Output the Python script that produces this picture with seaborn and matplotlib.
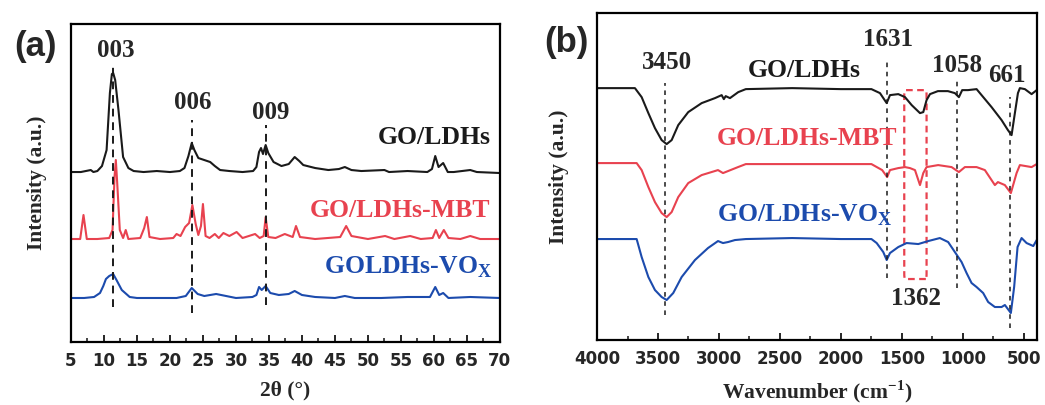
import matplotlib
matplotlib.use("Agg")
import matplotlib.pyplot as plt
import seaborn as sns
from matplotlib.patches import FancyBboxPatch
from matplotlib.ticker import MultipleLocator, NullLocator

# ─── (a) XRD patterns, intensity in arbitrary offset units ───────────────────
xrd_black_x = [5.0, 6.5, 8.0, 8.4, 9.0, 9.7, 10.4, 10.9, 11.2, 11.4, 11.7, 12.2, 12.9, 13.7, 14.5, 16, 18, 20, 21.5,
               22.2, 22.8, 23.3, 23.7, 24.3, 25.2, 26.1, 26.8, 27.6, 29, 31, 32.6, 33.1, 33.5, 33.8, 34.1, 34.5,
               34.9, 35.7, 36.9, 38.0, 38.9, 39.6, 40.2, 42, 44, 45.6, 46.5, 47.5, 49, 52.5, 53.2, 56, 59.0,
               59.7, 60.2, 60.7, 61.4, 62.1, 63, 65.5, 66.5, 70]
xrd_black_y = [170, 170, 172, 170, 171, 176, 192, 249, 268, 269, 262, 232, 185, 174, 171, 170, 171, 170, 171,
               174, 186, 199, 192, 184, 182, 180, 176, 172, 171, 170, 171, 175, 190, 194, 188, 197,
               189, 180, 176, 178, 185, 181, 177, 174, 172, 173, 175, 172, 171, 172, 170, 171, 170,
               173, 186, 175, 179, 170, 170, 172, 170, 169]

xrd_red_x = [5.0, 6.4, 6.9, 7.4, 9, 10.8, 11.3, 11.6, 11.8, 12.0, 12.4, 12.9, 13.3, 13.7, 15.5, 16.1, 16.5, 16.9,
             18.5, 20.5, 21.0, 21.6, 22.3, 22.9, 23.4, 23.9, 24.3, 24.7, 25.0, 25.4, 26.0, 26.8, 27.4, 28.1, 29,
             30.1, 31, 32.9, 33.6, 34.2, 34.5, 34.9, 36, 37.4, 38.6, 39.1, 39.7, 42, 45.8, 46.7, 47.5, 50,
             52.6, 54, 56.4, 58, 59.8, 60.3, 60.8, 61.5, 62.2, 64, 65.5, 67, 70]
xrd_red_y = [103, 103, 127, 103, 103, 104, 112, 165, 182, 160, 112, 104, 112, 103, 104, 114, 125, 105,
             103, 104, 108, 106, 115, 119, 137, 118, 107, 116, 138, 106, 104, 108, 104, 109, 106,
             110, 104, 108, 104, 106, 125, 105, 104, 108, 105, 116, 105, 103, 105, 116, 106, 103,
             106, 103, 106, 103, 104, 112, 104, 112, 104, 103, 106, 103, 103]

xrd_blue_x = [5.0, 7, 8.5, 9.4, 9.9, 10.3, 10.8, 11.4, 11.9, 12.7, 13.9, 15, 18, 21, 22.4, 23.3, 24.2, 25.2, 27,
              28.5, 30, 32.5, 33.1, 33.5, 33.9, 34.5, 35.2, 36.5, 38.0, 38.9, 40, 42, 45, 46.5, 48, 52, 56,
              59.4, 60.2, 60.8, 61.4, 62.2, 65.5, 70]
xrd_blue_y = [44, 44, 45, 49, 56, 63, 66, 68, 62, 52, 45, 44, 44, 44, 46, 54, 48, 46, 48,
              46, 44, 45, 47, 55, 52, 56, 49, 47, 48, 51, 47, 45, 44, 46, 44, 44, 45,
              45, 55, 47, 49, 44, 45, 44]

xrd_markers = [11.4, 23.3, 34.5]
xrd_marker_top = [277, 222, 217]
xrd_marker_bottom = [35, 29, 37]
xrd_labels = ["003", "006", "009"]
xrd_label_x = [11.8, 23.5, 35.2]
xrd_label_y = [292, 240, 230]
xrd_ticks = [5, 10, 15, 20, 25, 30, 35, 40, 45, 50, 55, 60, 65, 70]

# ─── (b) FTIR spectra ────────────────────────────────────────────────────────
ir_black_x = [4000, 3689, 3634, 3579, 3525, 3470, 3429, 3388, 3334, 3252, 3142, 3033, 2978, 2960, 2945, 2910, 2842,
              2780, 2400, 2000, 1750, 1680, 1625, 1598, 1530, 1475, 1420, 1352, 1325, 1298, 1270, 1205, 1123,
              1066, 1033, 1006, 959, 888, 847, 765, 683, 631, 601, 574, 549, 533, 492, 437, 395]
ir_black_y = [252, 252, 243, 227, 212, 200, 196, 200, 215, 228, 237, 242, 245, 241, 244, 242, 248,
              251, 252, 251, 251, 247, 237, 245, 246, 243, 235, 227, 228, 240, 246, 249, 249,
              247, 243, 250, 250, 251, 245, 233, 220, 210, 205, 227, 247, 252, 251, 246, 250]

ir_red_x = [4000, 3675, 3634, 3579, 3525, 3470, 3429, 3388, 3334, 3252, 3142, 3008, 2967, 2926, 2844, 2780,
            2400, 2000, 1750, 1662, 1621, 1598, 1530, 1475, 1434, 1393, 1352, 1325, 1298, 1203, 1093, 1033,
            984, 888, 820, 738, 713, 656, 607, 560, 533, 437, 395]
ir_red_y = [177, 177, 170, 153, 138, 127, 123, 128, 143, 157, 165, 170, 167, 169, 173, 176,
            176, 176, 176, 170, 163, 170, 172, 173, 172, 170, 155, 167, 173, 175, 173, 168,
            173, 173, 170, 155, 158, 155, 147, 167, 175, 173, 176]

ir_blue_x = [4000, 3675, 3634, 3579, 3525, 3470, 3429, 3375, 3306, 3197, 3090, 3008, 2967, 2926, 2869, 2780,
             2400, 2000, 1750, 1707, 1653, 1625, 1598, 1530, 1462, 1366, 1284, 1189, 1121, 1066, 1011, 970,
             929, 888, 834, 793, 738, 683, 656, 607, 580, 552, 519, 478, 423, 395]
ir_blue_y = [101, 101, 83, 63, 50, 43, 40, 47, 63, 80, 92, 99, 97, 98, 100, 101,
             102, 101, 101, 97, 88, 80, 87, 93, 97, 96, 99, 102, 98, 88, 78, 67,
             57, 53, 47, 38, 33, 33, 35, 27, 53, 93, 102, 97, 94, 100]

ir_markers = [3440, 1625, 1047, 615]
ir_marker_top = [257, 280, 260, 243]
ir_marker_bottom = [25, 62, 52, 12]
ir_labels = ["3450", "1631", "1058", "661", "1362"]
ir_label_x = [3429, 1617, 1052, 642, 1388]
ir_label_y = [278, 301, 275, 265, 42]
ir_box = [1481, 1298, 61, 250]  # x from, x to, y from, y to
ir_ticks = [4000, 3500, 3000, 2500, 2000, 1500, 1000, 500]

BLACK = "#1a1a1a"
RED = "#e8424f"
BLUE = "#1c4bad"
SANS = ["DejaVu Sans"]

sns.set_style("ticks")
plt.rcParams["font.family"] = ["Liberation Serif", "DejaVu Serif"]
plt.rcParams["font.weight"] = "bold"
plt.rcParams["mathtext.fontset"] = "custom"
plt.rcParams["mathtext.rm"] = "Liberation Serif:bold"
plt.rcParams["mathtext.bf"] = "Liberation Serif:bold"
plt.rcParams["axes.linewidth"] = 1.6

fig = plt.figure(figsize=(10.45, 4.05), dpi=100)
ax1 = fig.add_axes([0.0679, 0.1556, 0.4105, 0.785])
ax2 = fig.add_axes([0.5713, 0.1605, 0.421, 0.807])

# ─── Panel (a) ───────────────────────────────────────────────────────────────
for xs, ys, c in [(xrd_black_x, xrd_black_y, BLACK), (xrd_red_x, xrd_red_y, RED), (xrd_blue_x, xrd_blue_y, BLUE)]:
    sns.lineplot(x=xs, y=ys, color=c, lw=1.5, sort=False, ax=ax1)
for xm, top, bot in zip(xrd_markers, xrd_marker_top, xrd_marker_bottom):
    ax1.plot([xm, xm], [bot, top], ls=(0, (4, 3)), color=BLACK, lw=1.4)
for t, x, y in zip(xrd_labels, xrd_label_x, xrd_label_y):
    ax1.text(x, y, t, ha="center", va="center", fontsize=18, fontweight="bold")
ax1.text(68.6, 205, "GO/LDHs", color=BLACK, ha="right", va="center", fontsize=18.5, fontweight="bold")
ax1.text(68.6, 132, "GO/LDHs-MBT", color=RED, ha="right", va="center", fontsize=18.5, fontweight="bold")
ax1.text(68.8, 75, r"GOLDHs-VO$_\mathbf{X}$", color=BLUE, ha="right", va="center", fontsize=18.5, fontweight="bold")

ax1.set_xlim(5, 70)
ax1.set_ylim(0, 318)
ax1.set_xticks(xrd_ticks)
ax1.set_xticklabels([str(t) for t in xrd_ticks], family=SANS, fontweight="bold", fontsize=12)
ax1.xaxis.set_minor_locator(MultipleLocator(2.5))
ax1.yaxis.set_major_locator(NullLocator())
ax1.set_xlabel("2θ (°)", fontsize=15.5, fontweight="bold", labelpad=8)
ax1.set_ylabel("Intensity (a.u.)", fontsize=15.5, fontweight="bold", labelpad=17)

# ─── Panel (b) ───────────────────────────────────────────────────────────────
for xs, ys, c in [(ir_black_x, ir_black_y, BLACK), (ir_red_x, ir_red_y, RED), (ir_blue_x, ir_blue_y, BLUE)]:
    sns.lineplot(x=xs, y=ys, color=c, lw=1.5, sort=False, ax=ax2)
for xm, top, bot in zip(ir_markers, ir_marker_top, ir_marker_bottom):
    ax2.plot([xm, xm], [bot, top], ls=(0, (3, 3)), color=BLACK, lw=1.1)
for t, x, y in zip(ir_labels, ir_label_x, ir_label_y):
    ax2.text(x, y, t, ha="center", va="center", fontsize=18, fontweight="bold")
ax2.add_patch(FancyBboxPatch((ir_box[1], ir_box[2]), ir_box[0] - ir_box[1], ir_box[3] - ir_box[2],
                             boxstyle="round,pad=0,rounding_size=6", fill=False, ec=RED, lw=1.6,
                             ls=(0, (3, 2))))
ax2.text(2303, 270, "GO/LDHs", color=BLACK, ha="center", va="center", fontsize=18.5, fontweight="bold")
ax2.text(2279, 202, "GO/LDHs-MBT", color=RED, ha="center", va="center", fontsize=18.5, fontweight="bold")
ax2.text(2295, 125, r"GO/LDHs-VO$_\mathbf{X}$", color=BLUE, ha="center", va="center", fontsize=18.5, fontweight="bold")

ax2.set_xlim(4000, 393)
ax2.set_ylim(0, 327)
ax2.set_xticks(ir_ticks)
ax2.set_xticklabels([str(t) for t in ir_ticks], family=SANS, fontweight="bold", fontsize=12)
ax2.xaxis.set_minor_locator(MultipleLocator(250))
ax2.yaxis.set_major_locator(NullLocator())
ax2.set_xlabel(r"Wavenumber (cm$^\mathbf{-1}$)", fontsize=15.5, fontweight="bold", labelpad=8)
ax2.set_ylabel("Intensity (a.u.)", fontsize=15.5, fontweight="bold", labelpad=20)

for ax in (ax1, ax2):
    ax.tick_params(axis="x", which="both", direction="in", top=False, pad=7)
    ax.tick_params(axis="x", which="major", length=5, width=1.4)
    ax.tick_params(axis="x", which="minor", length=3, width=1.2)
    for sp in ax.spines.values():
        sp.set_visible(True)
        sp.set_color("black")

fig.text(0.034, 0.885, "(a)", fontsize=25, fontweight="bold", family=["Liberation Sans", "DejaVu Sans"],
         ha="center", va="center")
fig.text(0.542, 0.895, "(b)", fontsize=25, fontweight="bold", family=["Liberation Sans", "DejaVu Sans"],
         ha="center", va="center")

fig.savefig("out.png", dpi=100)
